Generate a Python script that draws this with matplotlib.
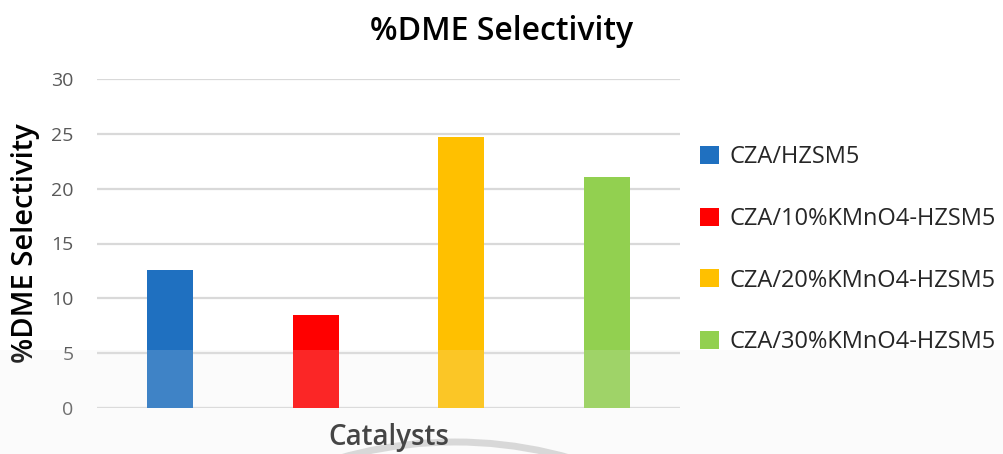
import matplotlib
matplotlib.use("Agg")
import matplotlib.pyplot as plt
from matplotlib.patches import Rectangle, Arc, Patch
import numpy as np

plt.rcParams['font.family'] = ['Open Sans', 'DejaVu Sans']

# Data
series = ["CZA/HZSM5", "CZA/10%KMnO4-HZSM5", "CZA/20%KMnO4-HZSM5", "CZA/30%KMnO4-HZSM5"]
values = [12.6, 8.5, 24.7, 21.1]
colors = ["#1F70C0", "#FF0000", "#FFC000", "#92D050"]
yticks = [0, 5, 10, 15, 20, 25, 30]
title = "%DME Selectivity"
ylabel = "%DME Selectivity"
xlabel = "Catalysts"

W, H = 1004, 454
fig = plt.figure(figsize=(W / 100, H / 100), dpi=100)

# background layer (faint arc behind axis label)
bg = fig.add_axes([0, 0, 1, 1], zorder=0)
bg.set_xlim(0, W)
bg.set_ylim(H, 0)
bg.axis("off")
bg.add_patch(Arc((455, 862), 840, 840, theta1=244, theta2=296,
                 color="#d6d6d6", lw=5))

ax = fig.add_axes([97 / W, (H - 408) / H, 583 / W, 329 / H], zorder=1)
ax.patch.set_alpha(0)

n = len(values)
spacing = 0.25
width = 0.079
xs = (np.arange(n) - (n - 1) / 2) * spacing
for x, v, c, s in zip(xs, values, colors, series):
    ax.bar(x, v, width=width, color=c, label=s, zorder=3)

ax.set_xlim(-0.5, 0.5)
ax.set_ylim(0, 30)
ax.set_yticks(yticks)
ax.set_xticks([])
ax.yaxis.grid(True, color="#d9d9d9", lw=1.6, zorder=0)
ax.set_axisbelow(True)
for sp in ax.spines.values():
    sp.set_visible(False)
ax.tick_params(axis="y", length=0, pad=17, labelsize=14, labelcolor="#595959")

ax.set_ylabel(ylabel, fontsize=21, fontweight="semibold", color="#000000", labelpad=8)
ax.set_xlabel(xlabel, fontsize=20, fontweight="semibold", color="#262626", labelpad=11)

fig.text(0.5, 1 - 40 / H, title, ha="center", va="baseline", fontsize=23,
         fontweight="semibold", color="#000000")

handles = [Patch(facecolor=c, edgecolor="none") for c in colors]
fig.legend(handles, series, loc="upper left", bbox_to_anchor=(700 / W, 1 - 145 / H),
           frameon=False, fontsize=17, handlelength=0.8, handleheight=0.8,
           handletextpad=0.45, labelspacing=1.6, borderaxespad=0, borderpad=0,
           labelcolor="#262626")

# soft haze over the lower band
fg = fig.add_axes([0, 0, 1, 1], zorder=5)
fg.set_xlim(0, W)
fg.set_ylim(H, 0)
fg.axis("off")
fg.patch.set_alpha(0)
fg.add_patch(Rectangle((0, 350), W, H - 350, color="#e7e7e7", alpha=0.165, lw=0))

fig.savefig("out.png", dpi=100)
